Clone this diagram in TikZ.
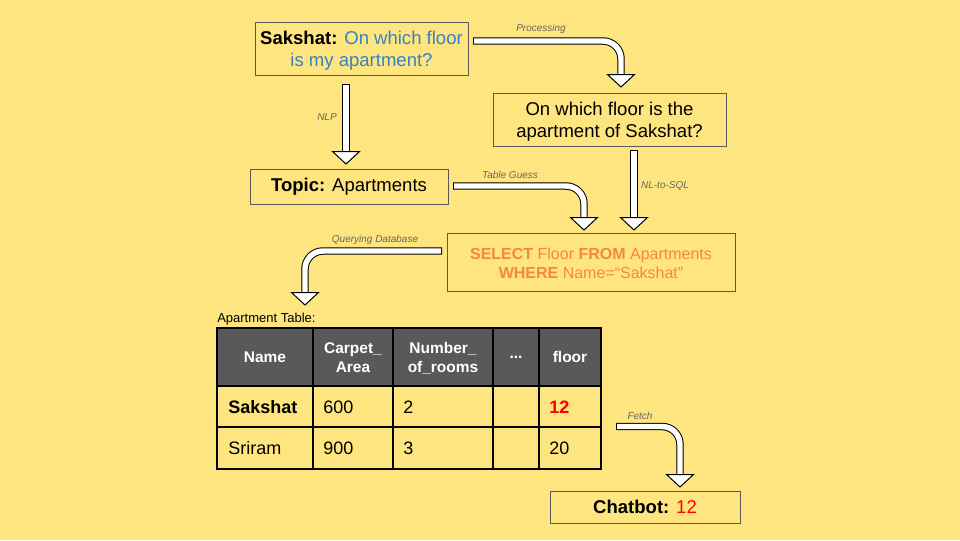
\documentclass[tikz,border=0pt]{standalone}
\usepackage{fontspec}
\setmainfont{Liberation Sans}
\usetikzlibrary{calc}
\definecolor{bg}{HTML}{FFE57F}
\definecolor{boxline}{HTML}{595959}
\definecolor{qblue}{HTML}{3582C4}
\definecolor{sqlorange}{HTML}{F6883E}
\definecolor{hdr}{HTML}{595959}
\definecolor{lblgray}{HTML}{666666}
\definecolor{hotred}{HTML}{FF0000}
\newcommand{\fatarrow}[2]{%
  \draw[shaftout] #1;
  \draw[shaftin] #1;
  \draw[arrowhead] ($(#2)+(-13.5,-12.5)$) -- ($(#2)+(13.5,-12.5)$) -- (#2) -- cycle;}
\newcommand{\topstrut}{\rule{0pt}{13pt}}
\begin{document}
\begin{tikzpicture}[x=0.75pt,y=-0.75pt,
  box/.style={draw=boxline, line width=0.75pt, inner sep=0pt, align=center, font=\fontsize{13.9}{16.5}\selectfont},
  lbl/.style={font=\fontsize{7.5}{9}\selectfont\itshape, text=lblgray, inner sep=0pt},
  shaftout/.style={line width=5.6pt, black, rounded corners=13.5pt},
  shaftin/.style={line width=4.1pt, white, rounded corners=13.5pt, shorten <=0.75pt},
  arrowhead/.style={draw=black, fill=white, line width=0.75pt, line join=miter},
  cell/.style={anchor=west, font=\fontsize{13.5}{16}\selectfont, inner sep=0pt},
  hcell/.style={font=\fontsize{11.6}{14.25}\selectfont\bfseries, text=white, align=center, inner sep=0pt}]

\fill[bg] (0,0) rectangle (960,540);
\useasboundingbox (0,0) rectangle (960,540);

% boxes
\node[box, minimum width=159.75pt, minimum height=39.75pt] (q) at (361.5,48.5)
  {\topstrut{\bfseries Sakshat:} {\color{qblue}On which floor}\\{\color{qblue}is my apartment?}};
\node[box, minimum width=174.75pt, minimum height=39.75pt] (r) at (609.5,119.5)
  {\topstrut On which floor is the\\apartment of Sakshat?};
\node[box, minimum width=148.5pt, minimum height=26.25pt] (topic) at (349,186.5)
  {{\bfseries Topic:} Apartments};
\node[box, minimum width=216pt, minimum height=43.5pt, text=sqlorange, font=\fontsize{12}{14.25}\selectfont] (sql) at (591,262)
  {\rule{0pt}{10pt}{\bfseries SELECT} Floor {\bfseries FROM} Apartments\\{\bfseries WHERE} Name=“Sakshat”};
\node[box, minimum width=142.5pt, minimum height=24pt] (bot) at (645,507)
  {{\bfseries Chatbot:} {\color{hotred}12}};

% table
\node[anchor=west, inner sep=0pt, font=\fontsize{9.75}{11}\selectfont] (ttl) at (217,319) {Apartment Table:};
\fill[hdr] (217,328) rectangle (601,386);
\draw[line width=1pt] (217,328) rectangle (601,469);
\draw[line width=1pt] (217,386) -- (601,386) (217,427) -- (601,427);
\draw[line width=1pt] (313,328) -- (313,469) (393,328) -- (393,469) (493,328) -- (493,469) (539,328) -- (539,469);

\node[hcell] (h1) at (265,357) {Name};
\node[hcell] (h2) at (353,358) {Carpet\_\\Area};
\node[hcell] (h3) at (443,358) {Number\_\\of\_rooms};
\node[hcell] (h4) at (516,357) {...};
\node[hcell] (h5) at (570,357) {floor};

\node[cell, font=\fontsize{13.5}{16}\selectfont\bfseries] (c11) at (228,407) {Sakshat};
\node[cell] (c12) at (323,407) {600};
\node[cell] (c13) at (403,407) {2};
\node[cell, font=\fontsize{13.5}{16}\selectfont\bfseries, text=hotred] (c15) at (549,407) {12};
\node[cell] (c21) at (228,448) {Sriram};
\node[cell] (c22) at (323,448) {900};
\node[cell] (c23) at (403,448) {3};
\node[cell] (c25) at (549,448) {20};

% arrow coordinates
\coordinate (a1s) at (473,41);   \coordinate (a1t) at (621,87);
\coordinate (a2s) at (346,84);   \coordinate (a2t) at (346,164);
\coordinate (a3s) at (453,186);  \coordinate (a3t) at (584,230);
\coordinate (a4s) at (634,150);  \coordinate (a4t) at (634,230);
\coordinate (a5s) at (442,251);  \coordinate (a5t) at (305,305);
\coordinate (a6s) at (616,426.5);\coordinate (a6t) at (680,487);

\fatarrow{(a1s) -- (a1s -| a1t) -- ($(a1t)+(0,-11)$)}{a1t}
\fatarrow{(a2s) -- ($(a2t)+(0,-11)$)}{a2t}
\fatarrow{(a3s) -- (a3s -| a3t) -- ($(a3t)+(0,-11)$)}{a3t}
\fatarrow{(a4s) -- ($(a4t)+(0,-11)$)}{a4t}
\fatarrow{(a5s) -- (a5s -| a5t) -- ($(a5t)+(0,-11)$)}{a5t}
\fatarrow{(a6s) -- (a6s -| a6t) -- ($(a6t)+(0,-11)$)}{a6t}

% labels
\node[lbl] (l1) at (541,29) {Processing};
\node[lbl] (l2) at (327,117) {NLP};
\node[lbl] (l3) at (510,175) {Table Guess};
\node[lbl] (l4) at (665,186) {NL-to-SQL};
\node[lbl] (l5) at (375,240) {Querying Database};
\node[lbl] (l6) at (640,416) {Fetch};
\end{tikzpicture}
\end{document}
